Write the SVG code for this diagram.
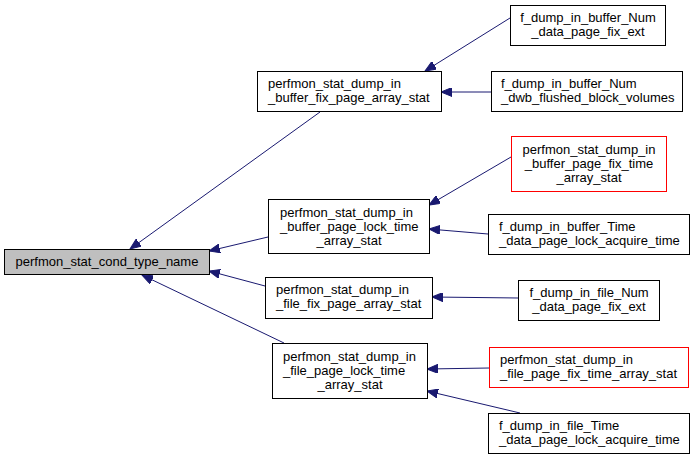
<svg xmlns="http://www.w3.org/2000/svg" width="695" height="459" viewBox="0 0 695 459">
<style>
.box{fill:#ffffff;stroke:#000000;stroke-width:1}
.root{fill:#bfbfbf;stroke:#000000;stroke-width:1}
.red{fill:#ffffff;stroke:#ff0000;stroke-width:1}
text{font-family:"Liberation Sans",Arial,Helvetica,sans-serif;font-size:13px;fill:#000000}
.c{text-anchor:middle}
.e{stroke:#191970;stroke-width:1;fill:none;marker-end:url(#ah)}
</style>
<defs>
<marker id="ah" markerUnits="userSpaceOnUse" markerWidth="12" markerHeight="9" refX="11" refY="4.5" orient="auto">
<path d="M0,0 L11,4.5 L0,9 Z" fill="#191970" stroke="#191970"/>
</marker>
</defs>
<rect width="695" height="459" fill="#ffffff"/>
<g id="connectors">
<line class="e" x1="320" y1="112" x2="130" y2="249"/>
<line class="e" x1="268" y1="237" x2="209" y2="251"/>
<line class="e" x1="265" y1="286" x2="209" y2="271"/>
<line class="e" x1="284" y1="343" x2="142" y2="275"/>
<line class="e" x1="510" y1="18" x2="425" y2="71"/>
<line class="e" x1="491" y1="92" x2="441" y2="92"/>
<line class="e" x1="511" y1="157" x2="429" y2="205"/>
<line class="e" x1="488" y1="234" x2="429" y2="229"/>
<line class="e" x1="518" y1="298" x2="432" y2="297"/>
<line class="e" x1="489" y1="368" x2="427" y2="369"/>
<line class="e" x1="520" y1="413" x2="427" y2="391"/>
</g>
<g id="root">
<rect class="root" x="4.5" y="249.5" width="205" height="25"/>
<text class="c" x="107" y="266">perfmon_stat_cond_type_name</text>
</g>
<g id="n1">
<rect class="box" x="257.5" y="71.5" width="184" height="40"/>
<text x="268" y="88">perfmon_stat_dump_in</text>
<text x="268" y="102">_buffer_fix_page_array_stat</text>
</g>
<g id="n2">
<rect class="box" x="268.5" y="199.5" width="161" height="54"/>
<text x="280" y="217">perfmon_stat_dump_in</text>
<text x="280" y="231">_buffer_page_lock_time</text>
<text class="c" x="349" y="245">_array_stat</text>
</g>
<g id="n3">
<rect class="box" x="265.5" y="277.5" width="167" height="41"/>
<text x="276" y="294">perfmon_stat_dump_in</text>
<text x="276" y="308">_file_fix_page_array_stat</text>
</g>
<g id="n4">
<rect class="box" x="272.5" y="343.5" width="155" height="55"/>
<text x="283" y="361">perfmon_stat_dump_in</text>
<text x="283" y="375">_file_page_lock_time</text>
<text class="c" x="350" y="389">_array_stat</text>
</g>
<g id="r1">
<rect class="box" x="510.5" y="5.5" width="155" height="40"/>
<text class="c" x="588" y="22">f_dump_in_buffer_Num</text>
<text class="c" x="588" y="36">_data_page_fix_ext</text>
</g>
<g id="r2">
<rect class="box" x="491.5" y="71.5" width="191" height="40"/>
<text x="501" y="88">f_dump_in_buffer_Num</text>
<text x="501" y="102">_dwb_flushed_block_volumes</text>
</g>
<g id="r3">
<rect class="red" x="511.5" y="136.5" width="155" height="55"/>
<text class="c" x="589" y="154">perfmon_stat_dump_in</text>
<text class="c" x="589" y="168">_buffer_page_fix_time</text>
<text class="c" x="589" y="182">_array_stat</text>
</g>
<g id="r4">
<rect class="box" x="488.5" y="214.5" width="201" height="40"/>
<text x="499" y="231">f_dump_in_buffer_Time</text>
<text x="499" y="245">_data_page_lock_acquire_time</text>
</g>
<g id="r5">
<rect class="box" x="518.5" y="280.5" width="141" height="40"/>
<text class="c" x="589" y="297">f_dump_in_file_Num</text>
<text class="c" x="589" y="311">_data_page_fix_ext</text>
</g>
<g id="r6">
<rect class="red" x="489.5" y="347.5" width="199" height="40"/>
<text x="500" y="364">perfmon_stat_dump_in</text>
<text x="500" y="378">_file_page_fix_time_array_stat</text>
</g>
<g id="r7">
<rect class="box" x="488.5" y="413.5" width="201" height="40"/>
<text x="499" y="430">f_dump_in_file_Time</text>
<text x="499" y="444">_data_page_lock_acquire_time</text>
</g>
</svg>
